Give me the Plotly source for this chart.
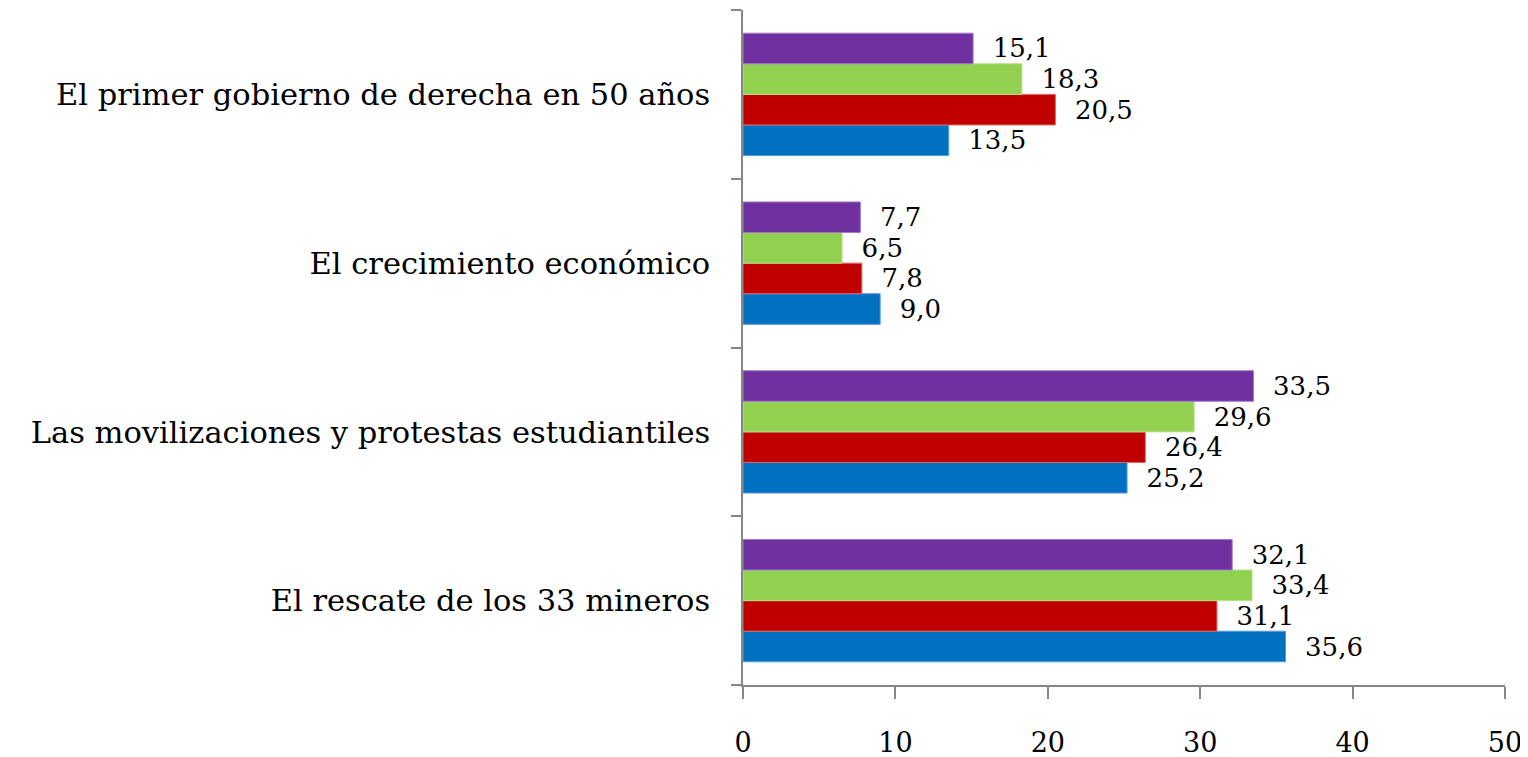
import plotly.graph_objects as go

categories = [
    "El rescate de los 33 mineros",
    "Las movilizaciones y protestas estudiantiles",
    "El crecimiento económico",
    "El primer gobierno de derecha en 50 años",
]
series_names = ["Serie 1", "Serie 2", "Serie 3", "Serie 4"]
blue_vals = [35.6, 25.2, 9.0, 13.5]
red_vals = [31.1, 26.4, 7.8, 20.5]
green_vals = [33.4, 29.6, 6.5, 18.3]
purple_vals = [32.1, 33.5, 7.7, 15.1]
x_ticks = [0, 10, 20, 30, 40, 50]

colors = ["#0070C0", "#C00000", "#92D050", "#7030A0"]
edge = ["#5B9BD5", "#E06666", "#B5E08A", "#A07CC8"]
all_vals = [blue_vals, red_vals, green_vals, purple_vals]

FONT = "DejaVu Serif"

fig = go.Figure()
for name, vals, c, e in zip(series_names, all_vals, colors, edge):
    fig.add_trace(go.Bar(
        y=categories, x=vals, orientation="h", name=name,
        marker=dict(color=c, line=dict(color=e, width=1)),
        text=["\u00a0\u00a0" + f"{v:.1f}".replace(".", ",") for v in vals],
        textposition="outside", cliponaxis=False,
        textfont=dict(family=FONT, size=26, color="black"),
    ))

fig.update_layout(
    width=1520, height=749,
    margin=dict(l=735, r=23, t=2, b=72),
    barmode="group", bargap=0.275, bargroupgap=0,
    showlegend=False,
    plot_bgcolor="white", paper_bgcolor="white",
    font=dict(family=FONT, color="black"),
)
fig.update_xaxes(
    range=[0, 50], tickvals=x_ticks, showgrid=False, zeroline=False,
    showline=True, linecolor="#868686", linewidth=1.5,
    ticks="outside", ticklen=12, tickcolor="#868686", tickwidth=1.5,
    ticklabelstandoff=21, tickfont=dict(family=FONT, size=27),
    automargin=False,
)
fig.update_yaxes(
    categoryorder="array", categoryarray=categories,
    showgrid=False, zeroline=False,
    showline=True, linecolor="#868686", linewidth=1.5,
    ticks="outside", ticklen=10, tickcolor="#868686", tickwidth=1.5,
    tickson="boundaries", ticklabelstandoff=25,
    tickfont=dict(family=FONT, size=30.5),
    automargin=False,
)

fig.write_html("out.html")
